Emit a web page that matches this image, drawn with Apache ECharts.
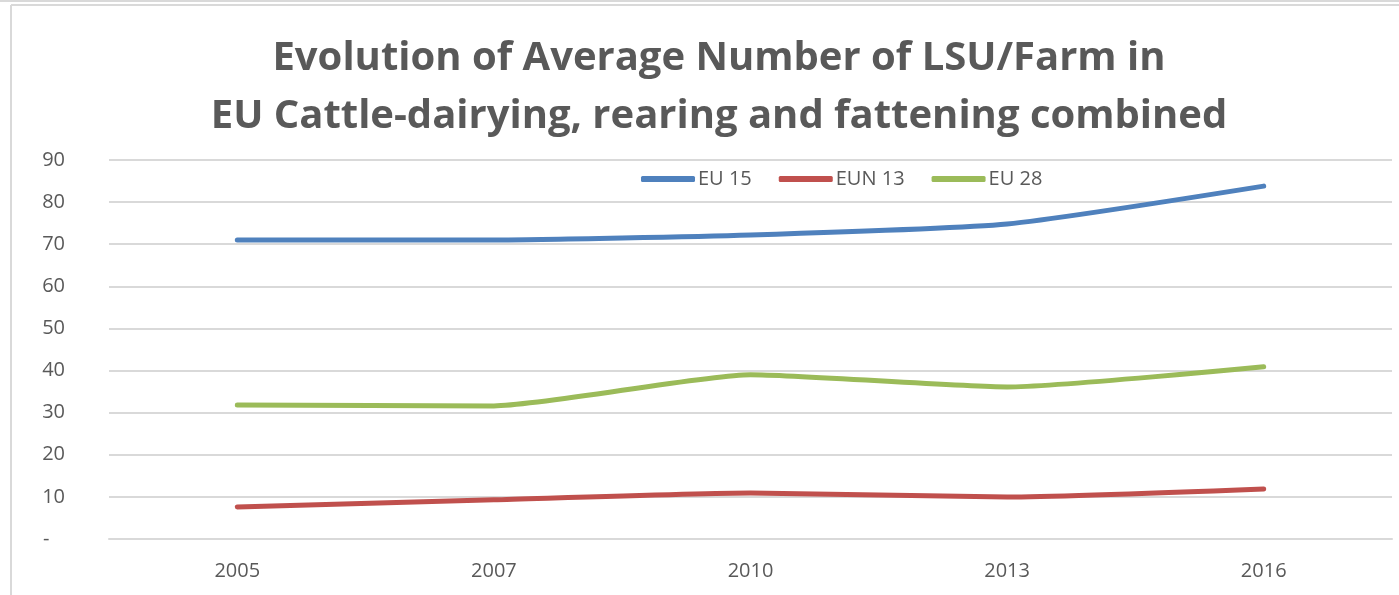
<!DOCTYPE html>
<html>
<head>
<meta charset="utf-8">
<script src="https://cdn.jsdelivr.net/npm/echarts@6/dist/echarts.min.js"></script>
<style>
  html, body { margin: 0; padding: 0; background: #fff; }
  #chart { width: 1399px; height: 595px; }
</style>
</head>
<body>
<div id="chart"></div>
<script>
// Survey years on the category axis
const years = ['2005', '2007', '2010', '2013', '2016'];

// Average livestock units per farm
const eu15 = [71.0, 71.0, 72.2, 74.8, 83.8];
const eun13 = [7.6, 9.3, 10.9, 10.0, 11.9];
const eu28 = [31.8, 31.6, 39.0, 36.1, 40.9];

const seriesNames = ['EU 15', 'EUN 13', 'EU 28'];
const seriesColors = ['#4F81BD', '#C0504D', '#9BBB59'];

const textColor = '#595959';
const font = 'Open Sans';

const chart = echarts.init(document.getElementById('chart'), null, { renderer: 'canvas' });

function lineSeries(name, data, color) {
  return {
    name: name,
    type: 'line',
    data: data,
    smooth: 0.18,
    symbol: 'none',
    lineStyle: { width: 5, color: color, cap: 'round', join: 'round' },
    itemStyle: { color: color }
  };
}

chart.setOption({
  backgroundColor: '#ffffff',
  animation: false,
  title: {
    text: 'Evolution of Average Number of LSU/Farm in\nEU Cattle-dairying, rearing and fattening combined',
    left: 714,
    top: 25,
    textAlign: 'center',
    textStyle: {
      fontFamily: font,
      fontSize: 40,
      fontWeight: 'bold',
      color: textColor,
      lineHeight: 58
    }
  },
  legend: {
    data: seriesNames,
    top: 164,
    left: 636,
    itemWidth: 54,
    itemHeight: 6,
    itemGap: 27,
    icon: 'roundRect',
    textStyle: { fontFamily: font, fontSize: 20, color: textColor, padding: [0, 0, 0, -2] }
  },
  grid: { left: 109, right: 7, top: 160, bottom: 56 },
  xAxis: {
    type: 'category',
    data: years,
    boundaryGap: true,
    axisLine: { show: true, lineStyle: { color: '#D9D9D9', width: 2 } },
    axisTick: { show: false },
    axisLabel: { fontFamily: font, fontSize: 20, color: textColor, margin: 22 }
  },
  yAxis: {
    type: 'value',
    min: 0,
    max: 90,
    interval: 10,
    axisLine: { show: false },
    axisTick: { show: false },
    splitLine: { lineStyle: { color: '#D9D9D9', width: 2 } },
    axisLabel: {
      fontFamily: font, fontSize: 20, color: textColor, margin: 44,
      align: 'right',
      formatter: v => (v === 0 ? '-   ' : String(v))
    }
  },
  graphic: [
    // outer frame edges
    { type: 'line', shape: { x1: 0, y1: 1, x2: 1399, y2: 1 }, style: { stroke: '#D9D9D9', lineWidth: 2 } },
    { type: 'line', shape: { x1: 11, y1: 5, x2: 1399, y2: 5 }, style: { stroke: '#D9D9D9', lineWidth: 2 } },
    { type: 'line', shape: { x1: 11, y1: 5, x2: 11, y2: 595 }, style: { stroke: '#D9D9D9', lineWidth: 2 } }
  ],
  series: [
    lineSeries(seriesNames[0], eu15, seriesColors[0]),
    lineSeries(seriesNames[1], eun13, seriesColors[1]),
    lineSeries(seriesNames[2], eu28, seriesColors[2])
  ]
});
</script>
</body>
</html>
